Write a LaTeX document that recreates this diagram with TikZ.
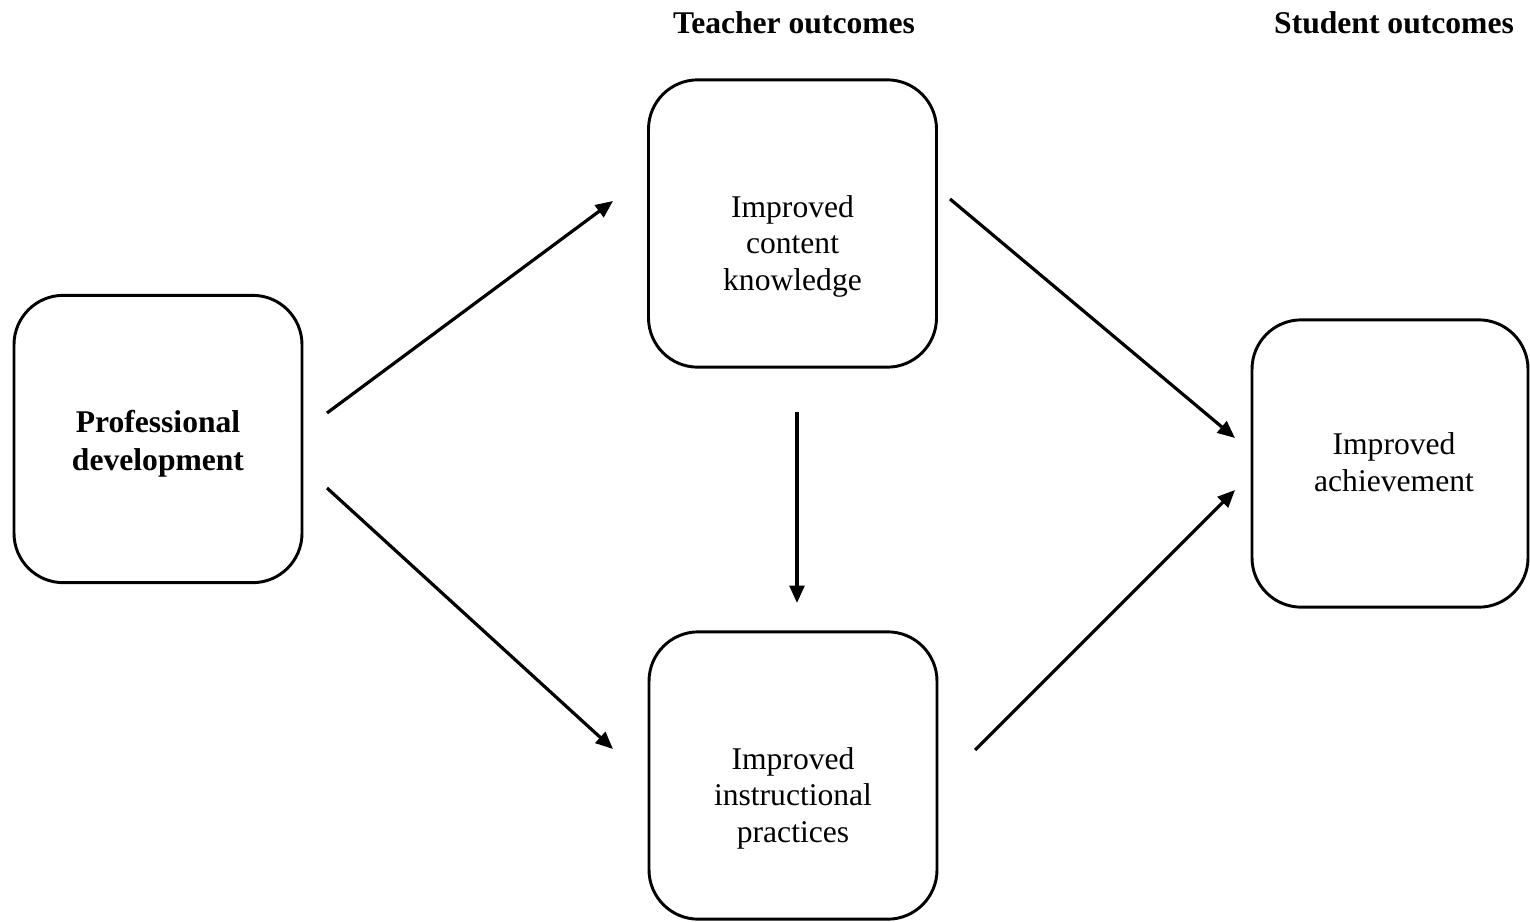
\documentclass[tikz,border=0pt]{standalone}
\usepackage{fontspec}
\setmainfont{Liberation Serif}
\usetikzlibrary{arrows.meta}

\tikzset{every picture/.style={line width=0.75pt}}
\tikzset{
  box/.style={draw, rounded corners=37pt, line width=2.2pt, minimum width=216pt, minimum height=215.5pt, inner sep=0pt},
  boxtext/.style={anchor=base, align=center, inner sep=0pt, font=\fontsize{23.7}{27.2}\selectfont},
  headtext/.style={anchor=base, inner sep=0pt, font=\fontsize{23.7}{27.2}\selectfont\bfseries},
  arr/.style={line width=2.4pt, -{Triangle[length=13pt,width=11pt]}}
}

\begin{document}
\begin{tikzpicture}[x=0.75pt,y=0.75pt,yscale=-1,xscale=1]
\useasboundingbox (0,0) rectangle (1530,921);

%Rounded Rect
\node [box] (pd) at (158,439) {};
%Rounded Rect
\node [box] (ck) at (792.5,223.5) {};
%Rounded Rect
\node [box] (ip) at (793,775.5) {};
%Rounded Rect
\node [box, minimum width=207pt] (ia) at (1390,463.5) {};

% Text Node (base = last line)
\node [boxtext, font=\fontsize{23.7}{27.8}\selectfont\bfseries] (pd-text) at (158,470) {Professional\\development};
% Text Node
\node [boxtext] (ck-text) at (792.5,290) {Improved\\content\\knowledge};
% Text Node
\node [boxtext] (ip-text) at (793,842) {Improved\\instructional\\practices};
% Text Node
\node [boxtext] (ia-text) at (1394,491) {Improved\\achievement};
% Text Node
\node [headtext] (teacher) at (794,33) {Teacher outcomes};
% Text Node
\node [headtext] (student) at (1394,33) {Student outcomes};

%Straight Lines
\coordinate (pd-ck-s) at (327,413);
\coordinate (pd-ck-e) at (613,201);
\draw [arr] (pd-ck-s) -- (pd-ck-e);
%Straight Lines
\coordinate (pd-ip-s) at (327,488);
\coordinate (pd-ip-e) at (613,749);
\draw [arr] (pd-ip-s) -- (pd-ip-e);
%Straight Lines
\coordinate (ck-ip-s) at (797,412);
\coordinate (ck-ip-e) at (797,603);
\draw [arr] (ck-ip-s) -- (ck-ip-e);
%Straight Lines
\coordinate (ck-ia-s) at (950,199);
\coordinate (ck-ia-e) at (1235,438);
\draw [arr] (ck-ia-s) -- (ck-ia-e);
%Straight Lines
\coordinate (ip-ia-s) at (975,750);
\coordinate (ip-ia-e) at (1235,490);
\draw [arr] (ip-ia-s) -- (ip-ia-e);

\end{tikzpicture}
\end{document}
